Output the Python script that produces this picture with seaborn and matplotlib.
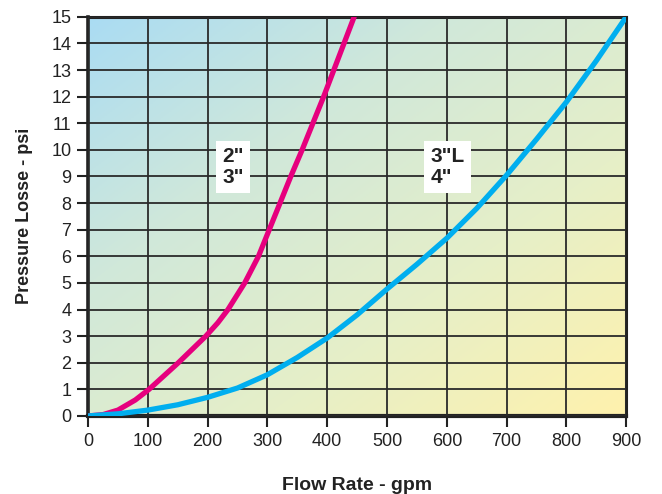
import numpy as np
import pandas as pd
import seaborn as sns
import matplotlib.pyplot as plt
from matplotlib.colors import LinearSegmentedColormap

# values
flow_small = [0, 25, 50, 79, 102, 151, 197, 217, 234, 248, 262, 285, 303, 321, 339, 358, 376, 394,
              411, 428, 445]
loss_small = [0, 0.05, 0.22, 0.6, 1, 2, 3, 3.5, 4, 4.5, 5, 6, 7, 8, 9, 10, 11, 12, 13, 14, 15]
flow_large = [0, 50, 100, 150, 200, 250, 300, 350, 400, 450, 500, 550, 600, 650, 700, 750, 800, 850, 900]
loss_large = [0, 0.08, 0.22, 0.42, 0.7, 1.05, 1.55, 2.2, 2.93, 3.8, 4.77, 5.7, 6.68, 7.8, 9.05,
              10.4, 11.8, 13.35, 15.0]
x_ticks = list(range(0, 1000, 100))
y_ticks = list(range(0, 16))

df = pd.concat([
    pd.DataFrame({"flow": flow_small, "loss": loss_small, "size": 'small'}),
    pd.DataFrame({"flow": flow_large, "loss": loss_large, "size": 'large'}),
])

sns.set_style("white")
plt.rcParams['font.family'] = ['Liberation Sans', 'DejaVu Sans']

fig = plt.figure(figsize=(6.62, 4.94), dpi=100)
ax = fig.add_axes([0.133, 0.158, 0.813, 0.808])

# diagonal gradient background
cmap = LinearSegmentedColormap.from_list("bg", ["#aadcf3", "#d0e8da", "#e6efc8", "#fff2ad"])
gx, gy = np.meshgrid(np.linspace(0, 1, 200), np.linspace(0, 1, 200))
grad = (gx + (1 - gy)) / 2
ax.imshow(grad, cmap=cmap, extent=[0, 900, 15, 0], aspect='auto', zorder=0)

sns.lineplot(data=df, x="flow", y="loss", hue="size", ax=ax,
             palette={'small': '#e6007e', 'large': '#00aeef'},
             linewidth=3.8, legend=False, zorder=3, sort=False)

ax.set_xlim(0, 900)
ax.set_ylim(0, 15)
ax.set_xticks(x_ticks)
ax.set_yticks(y_ticks)
ax.grid(True, color='#2a2a2a', linewidth=1.3, zorder=1)
ax.set_axisbelow(False)
for sp in ax.spines.values():
    sp.set_linewidth(2.2)
    sp.set_color('#222222')
ax.spines['bottom'].set_linewidth(3)
ax.spines['left'].set_linewidth(2.6)
ax.tick_params(axis='both', direction='out', length=8, width=1.5, color='#222222', pad=4,
               labelsize=13, labelcolor='#222222', bottom=True, left=True)
ax.set_xlabel("Flow Rate - gpm", fontsize=14, fontweight='bold', color='#222222', labelpad=20)
ax.set_ylabel("Pressure Losse - psi", fontsize=13, fontweight='bold', color='#222222', labelpad=13)

box = dict(facecolor='white', edgecolor='none', pad=4.5)
ax.text(225, 10.1, '2"\n3"', fontsize=15, fontweight='bold', color='#222222',
        va='top', ha='left', bbox=box, zorder=4, linespacing=1.1)
ax.text(573, 10.1, '3"L\n4"', fontsize=15, fontweight='bold', color='#222222',
        va='top', ha='left', bbox=box, zorder=4, linespacing=1.1)

fig.savefig("out.png", dpi=100)
